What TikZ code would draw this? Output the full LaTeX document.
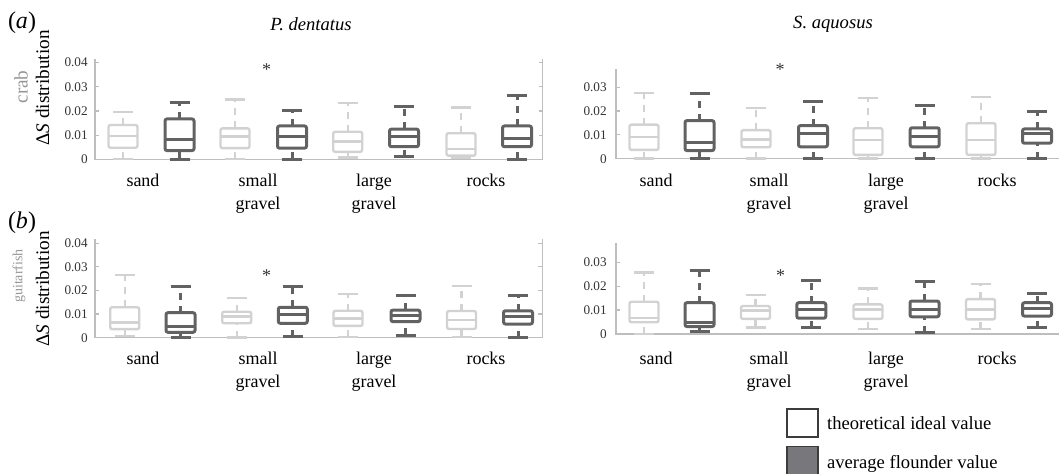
\documentclass[tikz,border=0pt]{standalone}
\usepackage{fontspec}
\setmainfont{Liberation Serif}
\usepackage{xcolor}
\usepackage{tikz}

\definecolor{lightbox}{RGB}{210,210,210}
\definecolor{darkbox}{RGB}{98,98,98}
\definecolor{axisgrey}{RGB}{190,190,190}
\definecolor{labelgrey}{RGB}{150,150,150}
\definecolor{legendfill}{RGB}{120,120,124}
\definecolor{legendline}{RGB}{60,60,60}

\tikzset{
  ideal/.style={draw=lightbox,line width=1.2pt},
  flounder/.style={draw=darkbox,line width=1.5pt},
  whisker/.style={dash pattern=on 3.5pt off 3pt},
  axisline/.style={draw=axisgrey,line width=0.6pt},
  ticklab/.style={font=\fontsize{6.6}{7}\selectfont,text=black!80,anchor=east,inner sep=0pt},
  catlab/.style={font=\fontsize{9}{11.5}\selectfont,align=center,anchor=north,inner sep=0pt},
  title/.style={font=\fontsize{9.3}{11}\selectfont\itshape,inner sep=0pt},
  panlab/.style={font=\fontsize{12}{14}\selectfont,inner sep=0pt},
  ylab/.style={font=\fontsize{9.6}{11}\selectfont,rotate=90,inner sep=0pt},
  sig/.style={font=\fontsize{9}{10}\selectfont,text=black!80,inner sep=0pt},
  legbox/.style={draw=legendline,line width=0.8pt,minimum width=15.5pt,minimum height=14pt,inner sep=0pt},
  legtext/.style={font=\fontsize{9.3}{11}\selectfont,inner sep=0pt}
}

% box-and-whisker: style, x, low, q1, median, q3, high
\newcommand{\wbox}[7]{%
  \draw[#1,whisker] (#2,#6) -- (#2,#7);
  \draw[#1,whisker] (#2,#3) -- (#2,#4);
  \draw[#1] (#2-10,#7) -- (#2+10,#7);
  \draw[#1] (#2-10,#3) -- (#2+10,#3);
  \draw[#1,rounded corners=1pt] (#2-14.5,#4) rectangle (#2+14.5,#6);
  \draw[#1] (#2-14.5,#5) -- (#2+14.5,#5);
}

\begin{document}
\begin{tikzpicture}[x=0.5pt,y=-0.5pt]
\useasboundingbox (0,0) rectangle (1059,474);

% panel labels and titles
\node[panlab] (pa) at (22,23) {(\textit{a})};
\node[panlab] (pb) at (22,222.5) {(\textit{b})};
\node[title] (tpd) at (311,24) {P. dentatus};
\node[title] (tsa) at (833,24) {S. aquosus};

\node[ylab] (ya) at (42.5,88) {Δ\textit{S} distribution};
\node[ylab,font=\fontsize{9.6}{11}\selectfont,text=labelgrey] (ga) at (21,87) {crab};
\node[ylab] (yb) at (42.5,289) {Δ\textit{S} distribution};
\node[ylab,font=\fontsize{7}{8}\selectfont,text=labelgrey] (gb) at (19,276) {guitarfish};

% (a) crab, P. dentatus
\begin{scope}[shift={(0,159.3)},yscale=-2.415]
  \draw[axisline] (95,41.5) -- (95,0) -- (542.7,0) -- (542.7,41.5);
  \draw[axisline] (95,10) -- ++(4,0) (95,20) -- ++(4,0) (95,30) -- ++(4,0) (95,40) -- ++(4,0);
  \draw[axisline] (542.7,10) -- ++(-4,0) (542.7,20) -- ++(-4,0) (542.7,30) -- ++(-4,0) (542.7,40) -- ++(-4,0);
  \node[ticklab] (al0) at (88,0) {0};
  \node[ticklab] (al1) at (88,10) {0.01};
  \node[ticklab] (al2) at (88,20) {0.02};
  \node[ticklab] (al3) at (88,30) {0.03};
  \node[ticklab] (al4) at (88,40) {0.04};
  \wbox{ideal}{123}{0}{4.8}{9.6}{14.2}{19.7}
  \wbox{flounder}{179.5}{0}{3.6}{8.3}{16.7}{23.6}
  \wbox{ideal}{235}{0}{4.6}{9.4}{12.8}{24.8}
  \wbox{flounder}{292}{0}{4.6}{9.4}{13.8}{20.4}
  \wbox{ideal}{347.7}{0.7}{3.1}{7.3}{11.4}{23.4}
  \wbox{flounder}{404}{1.1}{5.2}{9.4}{12.5}{22}
  \wbox{ideal}{461}{0.7}{1.5}{4.3}{10.8}{21.5}
  \wbox{flounder}{517}{0}{5.2}{8.7}{13.8}{26.6}
\end{scope}

% (a) crab, S. aquosus
\begin{scope}[shift={(0,158.7)},yscale=-2.38]
  \draw[axisline] (616,37.6) -- (616,0) -- (1059,0);
  \draw[axisline] (616,10) -- ++(4,0) (616,20) -- ++(4,0) (616,30) -- ++(4,0);
  \node[ticklab] (ar0) at (607,0) {0};
  \node[ticklab] (ar1) at (607,10) {0.01};
  \node[ticklab] (ar2) at (607,20) {0.02};
  \node[ticklab] (ar3) at (607,30) {0.03};
  \wbox{ideal}{644}{0}{3.7}{9.0}{14.3}{27.5}
  \wbox{flounder}{699.5}{0}{3.4}{6.7}{16.0}{27.5}
  \wbox{ideal}{756}{0}{4.8}{8.1}{12.0}{21.4}
  \wbox{flounder}{813}{0}{5.0}{10.4}{13.9}{24.2}
  \wbox{ideal}{868}{0}{1.6}{7.9}{12.8}{25.6}
  \wbox{flounder}{924.7}{0}{5.0}{9.2}{13.0}{22.3}
  \wbox{ideal}{981}{0}{1.6}{7.9}{14.9}{26.0}
  \wbox{flounder}{1037}{0}{6.5}{10.4}{12.5}{20.0}
\end{scope}

% (b) guitarfish, P. dentatus
\begin{scope}[shift={(0,337.7)},yscale=-2.36]
  \draw[axisline] (95,41.7) -- (95,0) -- (542.3,0) -- (542.3,41.7);
  \draw[axisline] (95,10) -- ++(4,0) (95,20) -- ++(4,0) (95,30) -- ++(4,0) (95,40) -- ++(4,0);
  \draw[axisline] (542.3,10) -- ++(-4,0) (542.3,20) -- ++(-4,0) (542.3,30) -- ++(-4,0) (542.3,40) -- ++(-4,0);
  \node[ticklab] (bl0) at (88,0) {0};
  \node[ticklab] (bl1) at (88,10) {0.01};
  \node[ticklab] (bl2) at (88,20) {0.02};
  \node[ticklab] (bl3) at (88,30) {0.03};
  \node[ticklab] (bl4) at (88,40) {0.04};
  \wbox{ideal}{124.7}{0.7}{3.6}{6.5}{12.9}{26.6}
  \wbox{flounder}{180.5}{0}{2.3}{4.7}{10.6}{21.6}
  \wbox{ideal}{236.7}{0}{6.1}{8.9}{11.0}{16.7}
  \wbox{flounder}{292.8}{0.4}{6.1}{9.9}{12.9}{21.9}
  \wbox{ideal}{348}{0.4}{5.0}{8.2}{11.4}{18.5}
  \wbox{flounder}{405.5}{1.1}{6.8}{9.3}{11.7}{17.8}
  \wbox{ideal}{461.5}{0.4}{3.7}{7.5}{11.3}{22.0}
  \wbox{flounder}{518}{0}{5.8}{8.9}{11.4}{17.8}
\end{scope}

% (b) guitarfish, S. aquosus
\begin{scope}[shift={(0,334)},yscale=-2.39]
  \draw[axisline] (616,38) -- (616,0) -- (1059,0);
  \draw[axisline] (616,10) -- ++(4,0) (616,20) -- ++(4,0) (616,30) -- ++(4,0);
  \node[ticklab] (br0) at (607,0) {0};
  \node[ticklab] (br1) at (607,10) {0.01};
  \node[ticklab] (br2) at (607,20) {0.02};
  \node[ticklab] (br3) at (607,30) {0.03};
  \wbox{ideal}{644}{0}{4.9}{6.6}{13.5}{25.8}
  \wbox{flounder}{699.5}{1.0}{3.1}{4.9}{13.1}{26.4}
  \wbox{ideal}{755.5}{2.8}{6.3}{9.8}{11.7}{16.3}
  \wbox{flounder}{811.3}{2.6}{6.6}{10.3}{13.1}{22.2}
  \wbox{ideal}{868}{2.1}{6.3}{10.3}{12.4}{19.1}
  \wbox{flounder}{924.5}{0.5}{7.2}{10.3}{13.8}{21.9}
  \wbox{ideal}{980.5}{2.1}{6.1}{10.3}{14.6}{20.8}
  \wbox{flounder}{1037}{2.6}{7.5}{10.7}{13.1}{17.0}
\end{scope}

% significance marks
\node[sig] (s1) at (266.7,69.5) {*};
\node[sig] (s2) at (780,69.5) {*};
\node[sig] (s3) at (266.7,276) {*};
\node[sig] (s4) at (780.7,276) {*};

% substrate labels
\node[catlab] (c1) at (143,174) {sand};
\node[catlab] (c2) at (258,174) {small\\gravel};
\node[catlab] (c3) at (374,174) {large\\gravel};
\node[catlab] (c4) at (486,174) {rocks};
\node[catlab] (c5) at (656,174) {sand};
\node[catlab] (c6) at (769,174) {small\\gravel};
\node[catlab] (c7) at (886,174) {large\\gravel};
\node[catlab] (c8) at (997,174) {rocks};
\node[catlab] (c9) at (143,352) {sand};
\node[catlab] (c10) at (258,352) {small\\gravel};
\node[catlab] (c11) at (374,352) {large\\gravel};
\node[catlab] (c12) at (486,352) {rocks};
\node[catlab] (c13) at (656,352) {sand};
\node[catlab] (c14) at (769,352) {small\\gravel};
\node[catlab] (c15) at (886,352) {large\\gravel};
\node[catlab] (c16) at (997,352) {rocks};

% legend
\node[legbox,fill=white] (lg1) at (802.2,423.3) {};
\node[legbox,fill=legendfill] (lg2) at (802.2,460.5) {};
\node[legtext,anchor=base west] (lt1) at (826.7,429.3) {theoretical ideal value};
\node[legtext,anchor=base west] (lt2) at (826.7,468.5) {average flounder value};
\end{tikzpicture}
\end{document}
